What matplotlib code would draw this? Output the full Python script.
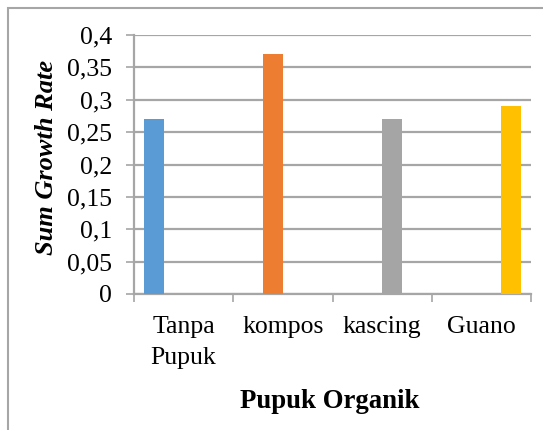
import matplotlib
matplotlib.use("Agg")
import matplotlib.pyplot as plt
from matplotlib.patches import Rectangle

categories = ["Tanpa\nPupuk", "kompos", "kascing", "Guano"]
values = [0.27, 0.37, 0.27, 0.29]
colors = ["#5B9BD5", "#ED7D31", "#A5A5A5", "#FFC000"]
yticks = [0, 0.05, 0.1, 0.15, 0.2, 0.25, 0.3, 0.35, 0.4]
ytick_labels = ["0", "0,05", "0,1", "0,15", "0,2", "0,25", "0,3", "0,35", "0,4"]

plt.rcParams['font.family'] = ['Liberation Serif', 'DejaVu Serif']

W, H = 543, 430
fig = plt.figure(figsize=(W / 100, H / 100), dpi=100)
ax = fig.add_axes([134 / W, 1 - 294 / H, (531 - 134) / W, (294 - 35) / H])

n = len(categories)
bw = 0.2
for i, (v, c) in enumerate(zip(values, colors)):
    offset = -0.3 + 0.2 * i
    ax.bar(i + offset, v, width=bw, color=c, zorder=3)

grid_c = "#A6A6A6"
ax.set_xlim(-0.5, n - 0.5)
ax.set_ylim(0, 0.4)
ax.set_yticks(yticks)
ax.set_yticklabels(ytick_labels, fontsize=18.5)
ax.yaxis.grid(True, color=grid_c, linewidth=1.6, zorder=0)
ax.tick_params(axis='y', length=6, width=1.2, color=grid_c, pad=10)

ax.set_xticks([i - 0.5 for i in range(n + 1)])
ax.set_xticklabels([])
ax.set_xticks(range(n), minor=True)
ax.set_xticklabels(categories, minor=True, fontsize=18.5, linespacing=1.5)
ax.tick_params(axis='x', which='major', length=6, width=1.2, color=grid_c)
ax.tick_params(axis='x', which='minor', length=0, pad=16)

for s in ['top', 'right']:
    ax.spines[s].set_visible(False)
ax.spines['left'].set_color(grid_c)
ax.spines['left'].set_linewidth(1.6)
ax.spines['bottom'].set_color(grid_c)
ax.spines['bottom'].set_linewidth(1.6)

fig.text(330 / W, 1 - 402 / H, "Pupuk Organik", ha='center', va='center',
         fontsize=19.3, fontweight='bold')
fig.text(47 / W, 1 - 157 / H, "Sum Growth Rate", ha='center', va='center',
         fontsize=19, fontweight='bold', fontstyle='italic', rotation=90)

fig.patches.append(Rectangle((7.5 / W, -0.1), 2, 1 - 7.5 / H + 0.1,
                             transform=fig.transFigure, fill=False,
                             edgecolor="#A6A6A6", linewidth=1.5))

fig.savefig("out.png", dpi=100)
